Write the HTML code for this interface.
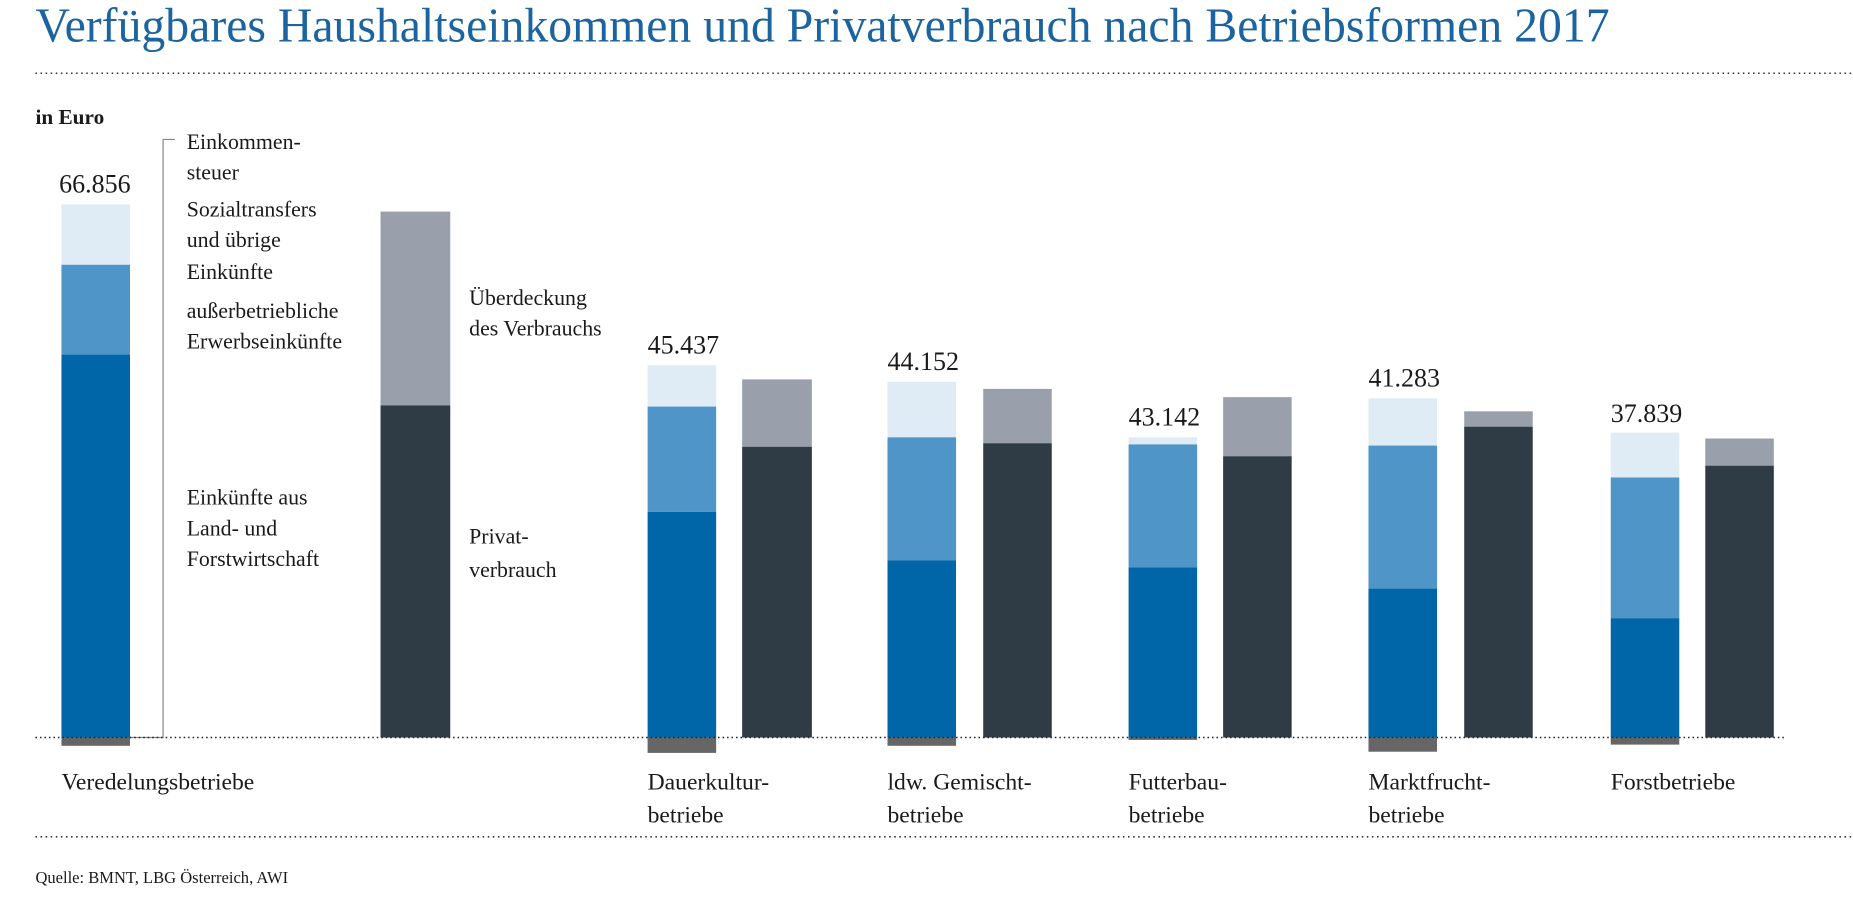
<!DOCTYPE html>
<html><head><meta charset="utf-8"><style>
html,body{margin:0;padding:0;background:#fff;}
svg{display:block;}
text{font-family:"Liberation Serif",serif;fill:#1a1a1a;}
</style></head><body>
<svg width="1853" height="916" viewBox="0 0 1568 775" preserveAspectRatio="none" xmlns="http://www.w3.org/2000/svg">
<text x="30" y="35" font-size="41" style="fill:#1b64a0" textLength="1332" lengthAdjust="spacingAndGlyphs">Verfügbares Haushaltseinkommen und Privatverbrauch nach Betriebsformen 2017</text>
<line x1="30" y1="62" x2="1568" y2="62" stroke="#333" stroke-width="1.3" stroke-dasharray="1.3 3"/>
<text x="30" y="105" font-size="18" font-weight="bold">in Euro</text>
<g font-size="18.5">
<text x="158" y="126">Einkommen-</text><text x="158" y="152">steuer</text>
<text x="158" y="183">Sozialtransfers</text><text x="158" y="209">und übrige</text><text x="158" y="236">Einkünfte</text>
<text x="158" y="269">außerbetriebliche</text><text x="158" y="295">Erwerbseinkünfte</text>
<text x="158" y="427">Einkünfte aus</text><text x="158" y="453">Land- und</text><text x="158" y="479">Forstwirtschaft</text>
<text x="397" y="258">Überdeckung</text><text x="397" y="284">des Verbrauchs</text>
<text x="397" y="460">Privat-</text><text x="397" y="488">verbrauch</text>
</g>
<path d="M148 118 H138 V624 H110" fill="none" stroke="#888" stroke-width="1"/>
<g>
<rect x="52" y="173" width="58" height="51" fill="#dfecf5"/><rect x="52" y="224" width="58" height="76" fill="#5095c8"/><rect x="52" y="300" width="58" height="324" fill="#0066a8"/><rect x="52" y="624" width="58" height="7" fill="#666"/>
<rect x="322" y="179" width="59" height="164" fill="#9aa0ab"/><rect x="322" y="343" width="59" height="281" fill="#2f3c46"/>
<rect x="548" y="309" width="58" height="35" fill="#dfecf5"/><rect x="548" y="344" width="58" height="89" fill="#5095c8"/><rect x="548" y="433" width="58" height="191" fill="#0066a8"/><rect x="548" y="624" width="58" height="13" fill="#666"/>
<rect x="628" y="321" width="59" height="57" fill="#9aa0ab"/><rect x="628" y="378" width="59" height="246" fill="#2f3c46"/>
<rect x="751" y="323" width="58" height="47" fill="#dfecf5"/><rect x="751" y="370" width="58" height="104" fill="#5095c8"/><rect x="751" y="474" width="58" height="150" fill="#0066a8"/><rect x="751" y="624" width="58" height="7" fill="#666"/>
<rect x="832" y="329" width="58" height="46" fill="#9aa0ab"/><rect x="832" y="375" width="58" height="249" fill="#2f3c46"/>
<rect x="955" y="370" width="58" height="6" fill="#dfecf5"/><rect x="955" y="376" width="58" height="104" fill="#5095c8"/><rect x="955" y="480" width="58" height="144" fill="#0066a8"/><rect x="955" y="624" width="58" height="2" fill="#666"/>
<rect x="1035" y="336" width="58" height="50" fill="#9aa0ab"/><rect x="1035" y="386" width="58" height="238" fill="#2f3c46"/>
<rect x="1158" y="337" width="58" height="40" fill="#dfecf5"/><rect x="1158" y="377" width="58" height="121" fill="#5095c8"/><rect x="1158" y="498" width="58" height="126" fill="#0066a8"/><rect x="1158" y="624" width="58" height="12" fill="#666"/>
<rect x="1239" y="348" width="58" height="13" fill="#9aa0ab"/><rect x="1239" y="361" width="58" height="263" fill="#2f3c46"/>
<rect x="1363" y="366" width="58" height="38" fill="#dfecf5"/><rect x="1363" y="404" width="58" height="119" fill="#5095c8"/><rect x="1363" y="523" width="58" height="101" fill="#0066a8"/><rect x="1363" y="624" width="58" height="6" fill="#666"/>
<rect x="1443" y="371" width="58" height="23" fill="#9aa0ab"/><rect x="1443" y="394" width="58" height="230" fill="#2f3c46"/>
</g>
<line x1="30" y1="624" x2="1510" y2="624" stroke="#222" stroke-width="1.3" stroke-dasharray="1.3 2.5"/>
<g font-size="22">
<text x="50" y="163">66.856</text><text x="548" y="299">45.437</text><text x="751" y="313">44.152</text>
<text x="955" y="360">43.142</text><text x="1158" y="327">41.283</text><text x="1363" y="357">37.839</text>
</g>
<g font-size="20">
<text x="52" y="668">Veredelungsbetriebe</text>
<text x="548" y="668">Dauerkultur-</text><text x="548" y="696">betriebe</text>
<text x="751" y="668">ldw. Gemischt-</text><text x="751" y="696">betriebe</text>
<text x="955" y="668">Futterbau-</text><text x="955" y="696">betriebe</text>
<text x="1158" y="668">Marktfrucht-</text><text x="1158" y="696">betriebe</text>
<text x="1363" y="668">Forstbetriebe</text>
</g>
<line x1="30" y1="708" x2="1568" y2="708" stroke="#333" stroke-width="1.3" stroke-dasharray="1.3 3"/>
<text x="30" y="747" font-size="14">Quelle: BMNT, LBG Österreich, AWI</text>
</svg>
</body></html>
